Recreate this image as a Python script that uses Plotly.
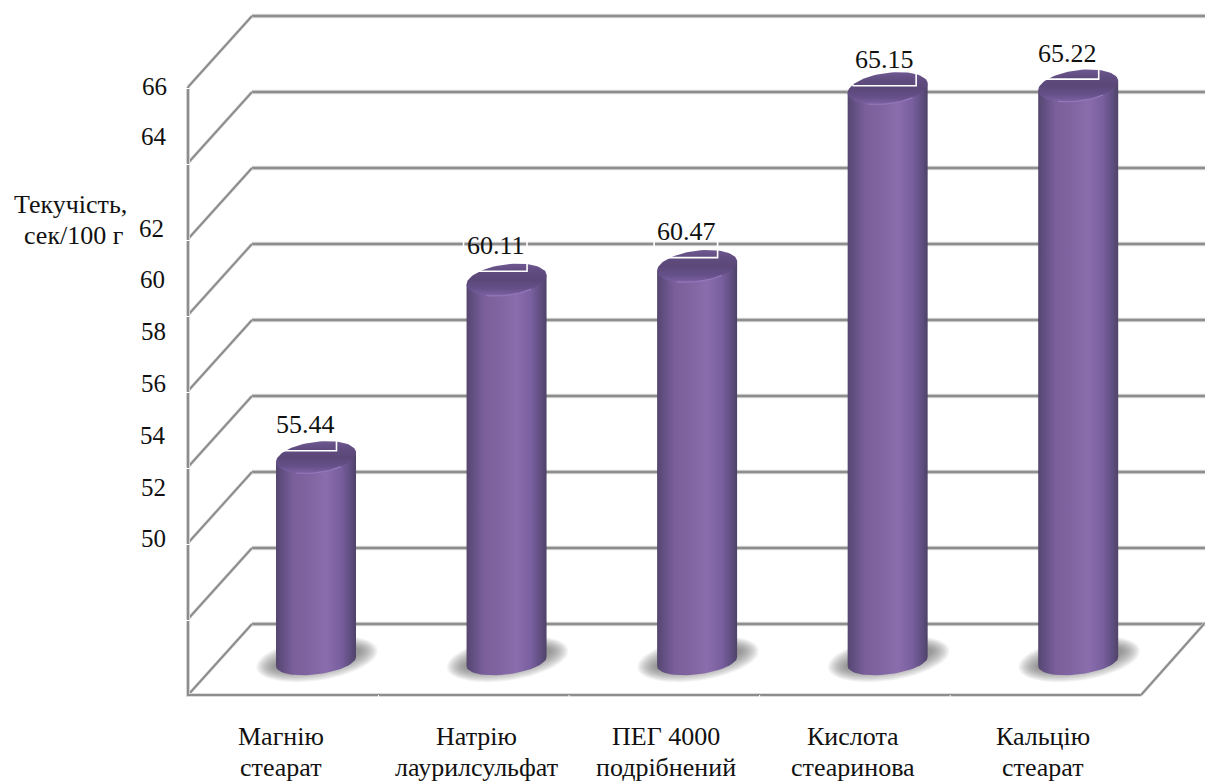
import numpy as np
import plotly.graph_objects as go

# Chart data
categories = [
    ["Магнію", "стеарат"],
    ["Натрію", "лаурилсульфат"],
    ["ПЕГ 4000", "подрібнений"],
    ["Кислота", "стеаринова"],
    ["Кальцію", "стеарат"],
]
values = [55.44, 60.11, 60.47, 65.15, 65.22]
tick_labels = ["66", "64", "62", "60", "58", "56", "54", "52", "50"]
axis_title = ["Текучість,", "сек/100 г"]

# Layout of the text placed around the plot, in pixels
tick_label_x = [154, 154, 151, 152, 153, 153, 153, 153, 153]
tick_label_y = [86, 137, 228, 279, 331, 383, 435, 487, 538]
category_x = [281, 476, 666, 853, 1043]
category_y = [736, 767]
title_x = [70, 73]
title_y = [204, 236]

# Per-label nudges of the value callouts
callout_dx = [0, 0, 0, 8, 0]
callout_gap = [6.5, 8.5, 8.5, 2.5, 6.5]

# Scales: pixels per category step and per value unit
W, H = 1205, 782
PX_CAT, PX_VAL = 190.55, 38.0
X0_PX, ZERO_PX = 316.0, 664.0
VAL_BASE, VAL_STEP, N_STEPS = 50.0, 2.0, 8


def cat(px):
    return (px - X0_PX) / PX_CAT


def val(px):
    return VAL_BASE + (ZERO_PX - px) / PX_VAL


GRID = "#8d8d8d"
HALO = "#dcdcdc"
BODY_SCALE = [
    [0.00, "#55466f"], [0.06, "#5f4d7e"], [0.22, "#7a5f9b"], [0.40, "#7f64a1"],
    [0.62, "#8a6dac"], [0.80, "#7a60a0"], [0.93, "#5f4e80"], [1.00, "#4f4368"],
]
CAP_SCALE = [
    [0.00, "#8065a6"], [0.08, "#755c9a"], [0.22, "#66508a"], [0.50, "#5b4878"],
    [0.78, "#614d80"], [1.00, "#6f5892"],
]

# Wall and floor geometry in pixels
LEFT_FRONT, LEFT_BACK = 188, 252
RIGHT_FRONT, RIGHT_BACK = 1141, 1204
FLOOR_FRONT, FLOOR_BACK = 695, 624
GRID_PX = 76

fig = go.Figure()


def line_trace(xs, ys, color, width):
    fig.add_trace(go.Scatter(
        x=xs, y=ys, mode="lines", line=dict(color=color, width=width),
        hoverinfo="skip", showlegend=False,
    ))


# Back wall gridlines, side wall diagonals, left axis and floor
gx, gy, dx, dy = [], [], [], []
for k in range(N_STEPS + 1):
    back = FLOOR_BACK - k * GRID_PX
    front = FLOOR_FRONT - k * GRID_PX
    gx += [cat(LEFT_BACK), cat(W + 5), None]
    gy += [val(back), val(back), None]
    dx += [cat(LEFT_FRONT), cat(LEFT_BACK), None]
    dy += [val(front), val(back), None]
dx += [cat(RIGHT_FRONT), cat(RIGHT_BACK), None]
dy += [val(FLOOR_FRONT), val(FLOOR_BACK), None]

axis_x = [cat(LEFT_FRONT), cat(LEFT_FRONT), cat(RIGHT_FRONT)]
axis_y = [val(FLOOR_FRONT - N_STEPS * GRID_PX), val(FLOOR_FRONT), val(FLOOR_FRONT)]

line_trace(gx, gy, HALO, 4.5)
line_trace(gx, gy, GRID, 2.4)
line_trace(dx, dy, HALO, 3.2)
line_trace(dx, dy, GRID, 2.0)
line_trace(axis_x, axis_y, HALO, 4.0)
line_trace(axis_x, axis_y, GRID, 2.2)

# Small white notches where ticks meet the axes
nx, ny = [], []
for k in range(1, N_STEPS + 1):
    y_px = FLOOR_FRONT - k * GRID_PX
    nx += [cat(LEFT_FRONT - 3), cat(LEFT_FRONT + 1.5), None]
    ny += [val(y_px + 1.5), val(y_px + 1.5), None]
for k in range(1, 5):
    x_px = LEFT_FRONT + k * PX_CAT
    nx += [cat(x_px), cat(x_px), None]
    ny += [val(FLOOR_FRONT), val(FLOOR_FRONT + 3), None]
line_trace(nx, ny, "#ffffff", 1.0)

# Cylinder geometry in pixels
RADIUS = 40.0
TILT = 4.6
MINOR = 15.5
MINOR_BASE = 13.0
BASE_CENTER_PX = 661.5
t_full = np.linspace(0, 2 * np.pi, 73)
t_front = np.linspace(0, np.pi, 37)
t_rim = np.linspace(0.9, 2.1, 15)


def soft_shadow(i):
    # Stacked translucent ellipses fade out into a blurred floor shadow
    rings = 18
    for r in range(rings):
        f = 1 - r / rings
        a = 42 + 19 * f
        b = 8 + 14 * f
        xs = X0_PX + i * PX_CAT + 1 + a * np.cos(t_full)
        ys = 659 - 8 * np.cos(t_full) + b * np.sin(t_full)
        fig.add_trace(go.Scatter(
            x=cat(xs), y=val(ys), mode="lines", line=dict(width=0),
            fill="toself", fillcolor="rgba(105,105,105,0.05)",
            hoverinfo="skip", showlegend=False,
        ))


for i in range(len(values)):
    soft_shadow(i)

for i, v in enumerate(values):
    cx = i * PX_CAT + X0_PX
    xmin, xmax = cat(cx - RADIUS), cat(cx + RADIUS)

    # Outline: down the right side, along the base arc, up the left side
    base_x = cx + RADIUS * np.cos(t_front)
    base_y = BASE_CENTER_PX - TILT * np.cos(t_front) + MINOR_BASE * np.sin(t_front)
    body_x = np.concatenate([[xmax], cat(base_x), [xmin], [xmin], [xmax]])
    body_y = np.concatenate([
        [val(BASE_CENTER_PX - TILT)], val(base_y), [val(BASE_CENTER_PX + TILT)],
        [v - TILT / PX_VAL], [v + TILT / PX_VAL],
    ])
    fig.add_trace(go.Scatter(
        x=body_x, y=body_y, mode="lines", line=dict(width=0), fill="toself",
        fillgradient=dict(type="horizontal", colorscale=BODY_SCALE, start=xmin, stop=xmax),
        hoverinfo="skip", showlegend=False,
    ))

    # Top cap with a thin highlight on its front rim
    cap_x = cat(cx + RADIUS * np.cos(t_full))
    cap_y = v + (TILT * np.cos(t_full) - MINOR * np.sin(t_full)) / PX_VAL
    fig.add_trace(go.Scatter(
        x=cap_x, y=cap_y, mode="lines", line=dict(width=0), fill="toself",
        fillgradient=dict(type="vertical", colorscale=CAP_SCALE,
                          start=float(cap_y.min()), stop=float(cap_y.max())),
        hoverinfo="skip", showlegend=False,
    ))
    line_trace(cat(cx + RADIUS * np.cos(t_rim)),
               v + (TILT * np.cos(t_rim) - MINOR * np.sin(t_rim)) / PX_VAL,
               "#9478bb", 1.2)

    # Value callout: a white outlined box with the number inside it
    box_left = cat(cx - 43 + callout_dx[i])
    box_right = cat(cx + 20.5 + callout_dx[i])
    box_low = v + callout_gap[i] / PX_VAL
    box_high = box_low + 48 / PX_VAL
    line_trace([box_left, box_right, box_right, box_left, box_left],
               [box_low, box_low, box_high, box_high, box_low], "#ffffff", 1.6)
    fig.add_annotation(
        x=cat(cx - 11 + callout_dx[i]), y=box_low + 26 / PX_VAL,
        text=f"{v:.2f}", showarrow=False,
        font=dict(family="Liberation Serif", size=26, color="#111111"),
    )

# Labels around the plot, given in page fractions
def add_page_text(text, x_px, y_px, size):
    fig.add_annotation(
        xref="paper", yref="paper", x=x_px / W, y=1 - y_px / H, text=text,
        showarrow=False, xanchor="center", yanchor="middle",
        font=dict(family="Liberation Serif", size=size, color="#111111"),
    )


for label, x_px, y_px in zip(tick_labels, tick_label_x, tick_label_y):
    add_page_text(label, x_px, y_px, 25)
for lines, x_px in zip(categories, category_x):
    for text, y_px in zip(lines, category_y):
        add_page_text(text, x_px, y_px, 26)
for text, x_px, y_px in zip(axis_title, title_x, title_y):
    add_page_text(text, x_px, y_px, 26)

fig.update_layout(
    width=W, height=H, autosize=False, showlegend=False,
    margin=dict(l=0, r=0, t=0, b=0), paper_bgcolor="white", plot_bgcolor="white",
    xaxis=dict(range=[cat(0), cat(W)], visible=False, fixedrange=True),
    yaxis=dict(range=[val(H), val(0)], visible=False, fixedrange=True),
)
fig.write_html("out.html", config=dict(displayModeBar=False))
